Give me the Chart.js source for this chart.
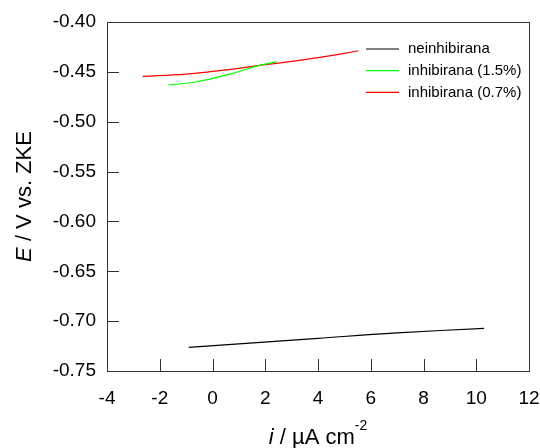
<!DOCTYPE html>
<html>
<head>
<meta charset="utf-8">
<script src="https://cdn.jsdelivr.net/npm/chart.js@4.4.0/dist/chart.umd.min.js"></script>
<style>
  html, body { margin: 0; padding: 0; background: #fff; }
  #wrap { width: 540px; height: 448px; }
</style>
</head>
<body>
<div id="wrap"><canvas id="polChart" width="540" height="448"></canvas></div>
<script>
// Polarization data (i in uA/cm2, E in V vs. ZKE)
const seriesNames = ["neinhibirana", "inhibirana (1.5%)", "inhibirana (0.7%)"];
const seriesColors = ["#000000", "#00ff00", "#ff0000"];

const iNone = [-0.9, 1.0, 4.0, 7.0, 10.3];
const eNone = [-0.7263, -0.7228, -0.7172, -0.7118, -0.7072];

const iHigh = [-1.67, -0.6, 0.67, 1.74, 2.44];
const eHigh = [-0.4632, -0.4599, -0.4522, -0.4438, -0.4398];

const iLow = [-2.65, -1.0, 0.0, 1.0, 2.0, 3.0, 4.0, 5.0, 5.53];
const eLow = [-0.4545, -0.4522, -0.4495, -0.4465, -0.4428, -0.4395, -0.4358, -0.4315, -0.4288];

const xTicks = [-4, -2, 0, 2, 4, 6, 8, 10, 12];
const yTicks = [-0.40, -0.45, -0.50, -0.55, -0.60, -0.65, -0.70, -0.75];

const FONT = "'Liberation Sans', Arial, sans-serif";

function toPoints(xs, ys) {
  return xs.map((x, k) => ({ x: x, y: ys[k] }));
}

// draws text pieces one after the other, each with its own font and y shift
function drawPieces(ctx, pieces, startX, y) {
  let x = startX;
  pieces.forEach((p) => {
    ctx.font = p.font;
    ctx.fillText(p.text, x, y + (p.dy || 0));
    x += ctx.measureText(p.text).width;
  });
}

function piecesWidth(ctx, pieces) {
  let w = 0;
  pieces.forEach((p) => {
    ctx.font = p.font;
    w += ctx.measureText(p.text).width;
  });
  return w;
}

// Frame, inside ticks, legend and axis titles
const framePlugin = {
  id: "frame",
  afterDraw(chart) {
    const ctx = chart.ctx;
    const a = chart.chartArea;
    const xs = chart.scales.x;
    const ys = chart.scales.y;
    ctx.save();
    ctx.strokeStyle = "#333";
    ctx.lineWidth = 1;
    ctx.strokeRect(a.left + 0.5, a.top + 0.5, a.right - a.left, a.bottom - a.top);

    ctx.beginPath();
    xTicks.forEach((v) => {
      const px = Math.round(xs.getPixelForValue(v)) + 0.5;
      ctx.moveTo(px, a.bottom);
      ctx.lineTo(px, a.bottom - 12);
    });
    yTicks.forEach((v) => {
      const py = Math.round(ys.getPixelForValue(v)) + 0.5;
      ctx.moveTo(a.left, py);
      ctx.lineTo(a.left + 12, py);
    });
    ctx.stroke();

    // legend
    ctx.font = "15px " + FONT;
    ctx.textBaseline = "middle";
    ctx.textAlign = "left";
    ctx.lineWidth = 1.2;
    chart.data.datasets.forEach((ds, k) => {
      const ly = 49 + k * 21.7;
      ctx.strokeStyle = ds.borderColor;
      ctx.beginPath();
      ctx.moveTo(366, ly);
      ctx.lineTo(399, ly);
      ctx.stroke();
      ctx.fillStyle = "#000";
      ctx.fillText(ds.label, 408, ly);
    });

    // y title
    ctx.fillStyle = "#000";
    ctx.textBaseline = "middle";
    ctx.textAlign = "left";
    const yTitle = [
      { text: "E", font: "italic 22px " + FONT },
      { text: " / V vs. ZKE", font: "22px " + FONT },
    ];
    ctx.save();
    ctx.translate(25, (a.top + a.bottom) / 2);
    ctx.rotate(-Math.PI / 2);
    drawPieces(ctx, yTitle, -piecesWidth(ctx, yTitle) / 2, 0);
    ctx.restore();

    // x title
    const xTitle = [
      { text: "i", font: "italic 22px " + FONT },
      { text: " / \u00b5A cm", font: "22px " + FONT },
      { text: "-2", font: "14px " + FONT, dy: -12 },
    ];
    const cx = (a.left + a.right) / 2;
    drawPieces(ctx, xTitle, cx - piecesWidth(ctx, xTitle) / 2, 438);
    ctx.restore();
  },
};

const ctx = document.getElementById("polChart").getContext("2d");
new Chart(ctx, {
  type: "scatter",
  data: {
    datasets: [
      { label: seriesNames[0], data: toPoints(iNone, eNone), borderColor: seriesColors[0] },
      { label: seriesNames[1], data: toPoints(iHigh, eHigh), borderColor: seriesColors[1] },
      { label: seriesNames[2], data: toPoints(iLow, eLow), borderColor: seriesColors[2] },
    ].map((d) => Object.assign(d, {
      showLine: true,
      borderWidth: 1.2,
      pointRadius: 0,
      tension: 0.4,
      fill: false,
    })),
  },
  options: {
    responsive: false,
    animation: false,
    layout: { padding: { top: 22, right: 11, left: 0, bottom: 0 } },
    plugins: { legend: { display: false }, tooltip: { enabled: false } },
    scales: {
      x: {
        type: "linear",
        min: -4,
        max: 12,
        afterFit: (s) => {
          s.height = 77;
          s.paddingLeft = 0;
          s.paddingRight = 0;
        },
        afterBuildTicks: (s) => { s.ticks = xTicks.map((v) => ({ value: v })); },
        grid: { display: false, drawTicks: false },
        border: { display: false },
        ticks: {
          padding: 16,
          color: "#000",
          font: { family: FONT, size: 19 },
          maxRotation: 0,
          callback: (v) => String(v),
        },
      },
      y: {
        type: "linear",
        min: -0.75,
        max: -0.40,
        afterFit: (s) => {
          s.width = 107;
          s.paddingTop = 0;
          s.paddingBottom = 0;
        },
        afterBuildTicks: (s) => { s.ticks = yTicks.map((v) => ({ value: v })); },
        grid: { display: false, drawTicks: false },
        border: { display: false },
        ticks: {
          padding: 11,
          color: "#000",
          font: { family: FONT, size: 19 },
          callback: (v) => Number(v).toFixed(2),
        },
      },
    },
  },
  plugins: [framePlugin],
});
</script>
</body>
</html>
